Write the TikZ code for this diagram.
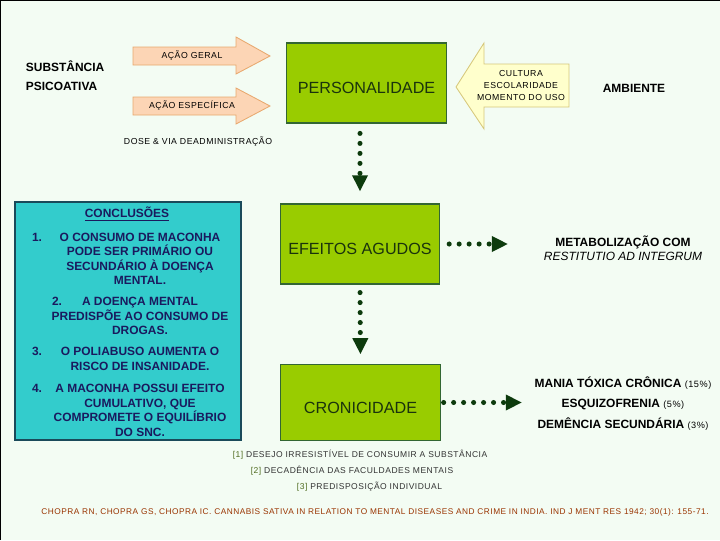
\documentclass[tikz,border=0pt]{standalone}
\usepackage{fontspec}
\setmainfont{Liberation Sans}
\newfontfamily\spacedfont[LetterSpace=6]{Liberation Sans}
\usepackage{xcolor}
\usetikzlibrary{arrows.meta}
\definecolor{CRMint}{HTML}{F3FCF3}
\definecolor{CRGreen}{HTML}{99CC00}
\definecolor{CRBoxLine}{HTML}{336633}
\definecolor{CRBoxText}{HTML}{1A330D}
\definecolor{CRCyan}{HTML}{33CCCC}
\definecolor{CRTeal}{HTML}{1A4A5A}
\definecolor{CRNavy}{HTML}{1A1A5E}
\definecolor{CRPeach}{HTML}{FCD5B5}
\definecolor{CRPeachLine}{HTML}{E8A86E}
\definecolor{CRCream}{HTML}{FFFFCC}
\definecolor{CRCreamLine}{HTML}{D6C77A}
\definecolor{CRDot}{HTML}{0D3B0D}
\definecolor{CRBrown}{HTML}{993300}
\definecolor{CRNote}{HTML}{333333}
\definecolor{CRNum}{HTML}{4F6B1F}
\newcommand\pct[1]{{\mdseries\spacedfont\fontsize{6.5}{8}\selectfont #1}}

\begin{document}
\begin{tikzpicture}[x=0.025cm,y=-0.025cm,
  greenbox/.style={draw=CRBoxLine,line width=0.8pt,fill=CRGreen,text=CRBoxText,
    minimum width=3.98cm,minimum height=2cm,text height=15pt,text depth=0pt,
    font=\fontsize{11.5}{13}\selectfont},
  lbl/.style={font=\fontsize{8.5}{10}\selectfont\bfseries},
  tinytxt/.style={font=\spacedfont\fontsize{6.2}{8.2}\selectfont},
  conc/.style={text=CRNavy,align=center,font=\fontsize{8.5}{10.3}\selectfont\bfseries},
  peach/.style={draw=CRPeachLine,fill=CRPeach,line width=0.6pt},
  cream/.style={draw=CRCreamLine,fill=CRCream,line width=0.6pt},
  dotarrow/.style={draw=CRDot,line width=3.6pt,line cap=round,dash pattern=on 0pt off 7.1pt,
    -{Triangle[length=11.5pt,width=10.5pt]}}]
\fill[CRMint] (0,0) rectangle (720,540);
\path[use as bounding box] (0,0) rectangle (720,540);
\draw[black,line width=0.8pt] (0.4,540) -- (0.4,0.4) -- (720,0.4);

% substance and its two actions
\node[lbl,anchor=west] (subst) at (21,66) {SUBSTÂNCIA};
\node[lbl,anchor=west] (psico) at (21,86) {PSICOATIVA};
\filldraw[peach] (133,47) -- (236,47) -- (236,37) -- (270,56) -- (236,74) -- (236,65) -- (133,65) -- cycle;
\node[tinytxt] (geral) at (192,56) {AÇÃO GERAL};
\filldraw[peach] (133,97) -- (236,97) -- (236,88) -- (270,106) -- (236,124) -- (236,115) -- (133,115) -- cycle;
\node[tinytxt] (espec) at (192,106) {AÇÃO ESPECÍFICA};
\node[tinytxt] (dose) at (198,142) {DOSE \& VIA DEADMINISTRAÇÃO};

% personality and environment
\node[greenbox] (pers) at (366.5,83) {PERSONALIDADE};
\filldraw[cream] (456,87) -- (484,43) -- (484,64) -- (569,64) -- (569,107) -- (484,107) -- (484,129) -- cycle;
\node[tinytxt,align=center] (cult) at (521,85.5) {CULTURA\\ESCOLARIDADE\\MOMENTO DO USO};
\node[lbl] (amb) at (634,88) {AMBIENTE};

% effects
\node[greenbox] (efeitos) at (360,244) {EFEITOS AGUDOS};
\node[greenbox,minimum height=1.88cm] (cron) at (360.5,402.5) {CRONICIDADE};
\node[lbl,align=center] (metab) at (623,248) {METABOLIZAÇÃO COM\\\textit{\mdseries RESTITUTIO AD INTEGRUM}};
\node[lbl,align=center,font=\fontsize{8.5}{14.5}\selectfont\bfseries] (quadros) at (623,403.5)
  {MANIA TÓXICA CRÔNICA \pct{(15\%)}\\ESQUIZOFRENIA \pct{(5\%)}\\DEMÊNCIA SECUNDÁRIA \pct{(3\%)}};
\coordinate (quadtip) at (522,402.5);

\draw[dotarrow,shorten <=7pt,shorten >=8.5pt] (efeitos.north |- pers.south) -- (efeitos.north);
\draw[dotarrow,shorten <=5.7pt,shorten >=7.1pt] (efeitos.south) -- (cron.north);
\draw[dotarrow,shorten <=6.4pt,shorten >=22pt] (efeitos.east) -- (metab.west |- efeitos.east);
\draw[dotarrow,shorten <=2.1pt] (cron.east) -- (quadtip);

% conclusions
\node[draw=CRTeal,line width=0.8pt,fill=CRCyan,minimum width=5.65cm,minimum height=5.95cm] (concl) at (128,321) {};
\node[conc] (ctitle) at (127,214) {\underline{CONCLUSÕES}};
\node[conc] (num1) at (37,237.5) {1.};
\node[conc] (item1) at (140,259) {O CONSUMO DE MACONHA\\PODE SER PRIMÁRIO OU\\SECUNDÁRIO À DOENÇA\\MENTAL.};
\node[conc] (num2) at (57,301) {2.};
\node[conc] (item2) at (140,316) {A DOENÇA MENTAL\\PREDISPÕE AO CONSUMO DE\\DROGAS.};
\node[conc] (num3) at (37,351) {3.};
\node[conc] (item3) at (140,359) {O POLIABUSO AUMENTA O\\RISCO DE INSANIDADE.};
\node[conc] (num4) at (37,388) {4.};
\node[conc] (item4) at (140,410.5) {A MACONHA POSSUI EFEITO\\CUMULATIVO, QUE\\COMPROMETE O EQUILÍBRIO\\DO SNC.};

% notes and reference
\node[tinytxt,text=CRNote,font=\spacedfont\fontsize{6.05}{8}\selectfont] (nota1) at (360,455) {\textcolor{CRNum}{[1]} DESEJO IRRESISTÍVEL DE CONSUMIR A SUBSTÂNCIA};
\node[tinytxt,text=CRNote,font=\spacedfont\fontsize{6.05}{8}\selectfont] (nota2) at (352,471) {\textcolor{CRNum}{[2]} DECADÊNCIA DAS FACULDADES MENTAIS};
\node[tinytxt,text=CRNote,font=\spacedfont\fontsize{6.05}{8}\selectfont] (nota3) at (369.5,487) {\textcolor{CRNum}{[3]} PREDISPOSIÇÃO INDIVIDUAL};
\node[tinytxt,text=CRBrown,font=\spacedfont\fontsize{5.9}{8}\selectfont] (ref) at (375,512) {CHOPRA RN, CHOPRA GS, CHOPRA IC. CANNABIS SATIVA IN RELATION TO MENTAL DISEASES AND CRIME IN INDIA. IND J MENT RES 1942; 30(1): 155-71.};
\end{tikzpicture}
\end{document}
